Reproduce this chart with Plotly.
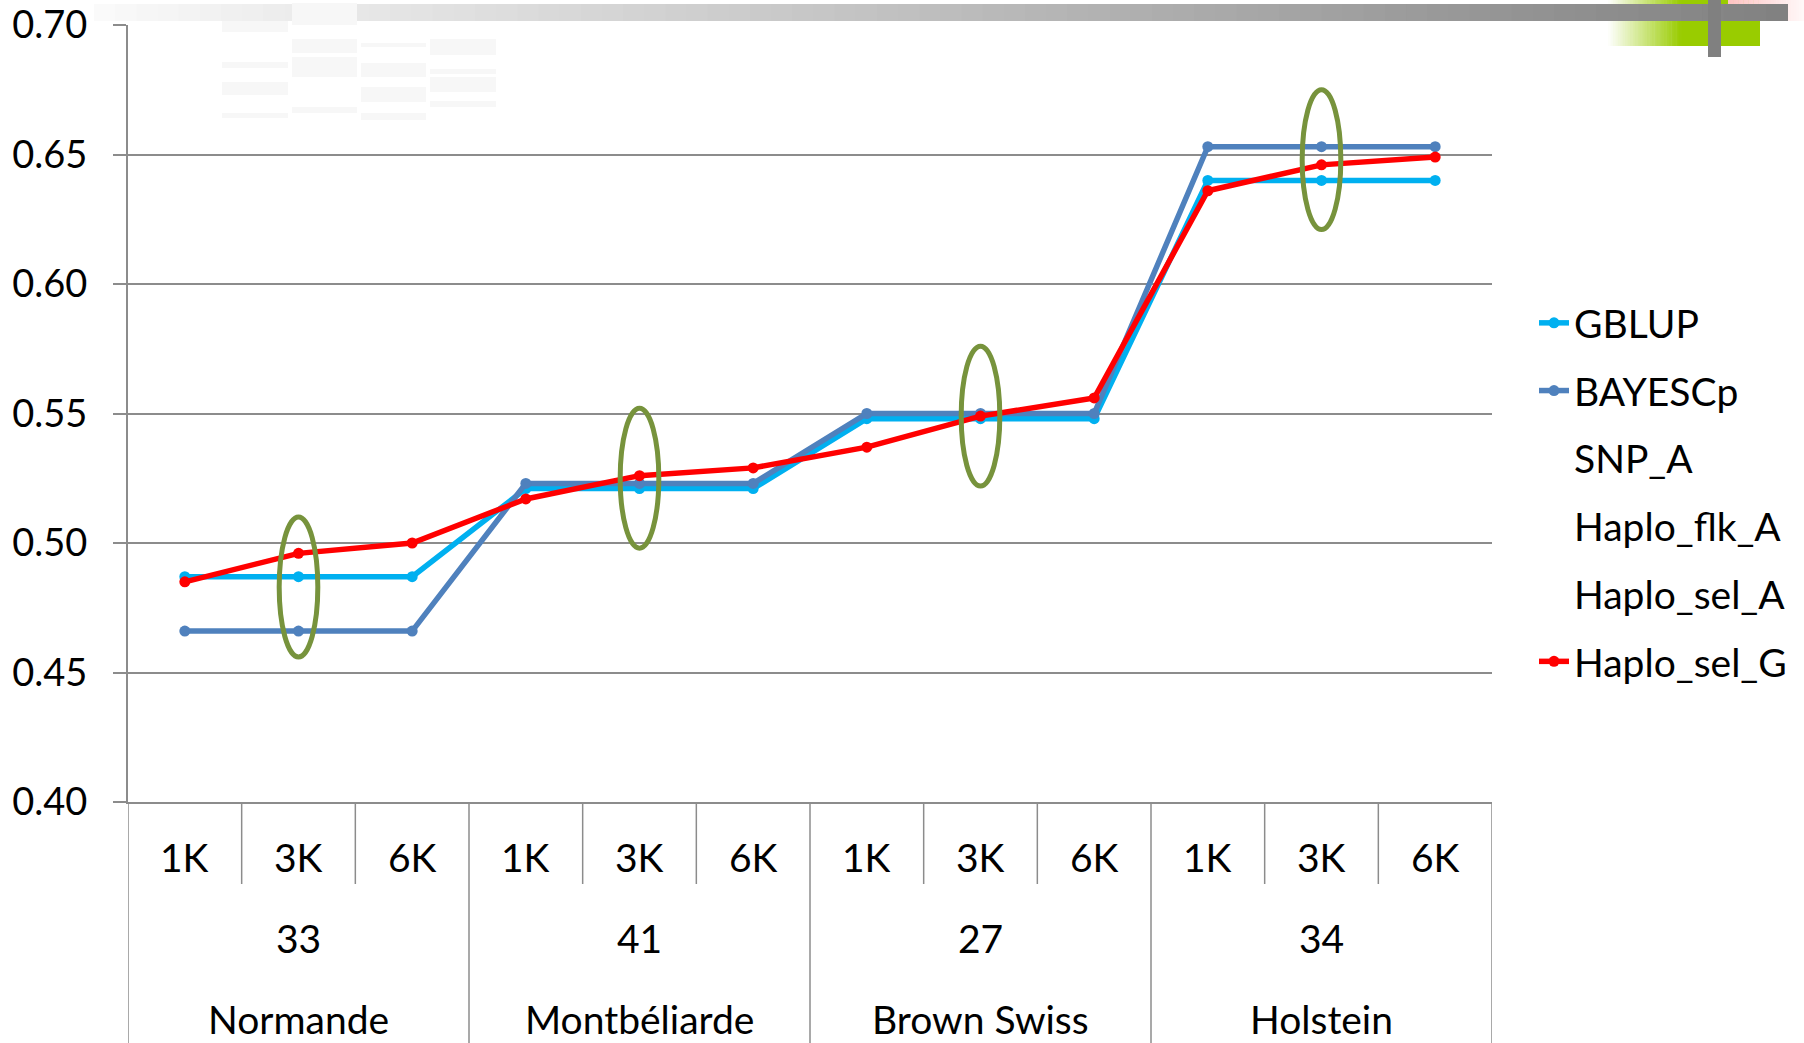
import plotly.graph_objects as go

# --- data ---------------------------------------------------------------
panels = ["1K", "3K", "6K"]
group_sizes = ["33", "41", "27", "34"]
breeds = ["Normande", "Montbéliarde", "Brown Swiss", "Holstein"]

gblup = [0.487, 0.487, 0.487, 0.521, 0.521, 0.521, 0.548, 0.548, 0.548, 0.640, 0.640, 0.640]
bayescp = [0.466, 0.466, 0.466, 0.523, 0.523, 0.523, 0.550, 0.550, 0.550, 0.653, 0.653, 0.653]
snp_a = [None] * 12
haplo_flk_a = [None] * 12
haplo_sel_a = [None] * 12
haplo_sel_g = [0.485, 0.496, 0.500, 0.517, 0.526, 0.529, 0.537, 0.549, 0.556, 0.636, 0.646, 0.649]

# highlighted 3K results (centre of each ring)
ring_x = [1, 4, 7, 10]
ring_y = [0.483, 0.525, 0.549, 0.648]

y_ticks = [0.40, 0.45, 0.50, 0.55, 0.60, 0.65, 0.70]

# --- geometry helpers ---------------------------------------------------
W, H = 1804, 1043
L, R, T, B = 128, 1492, 25, 802          # plot area in pixels
FONT = "Lato"
FS = 39
GRID = "#8c8c8c"


def px(xp):
    return (xp - L) / (R - L)


def py(yp):
    return (B - yp) / (B - T)


x_pos = list(range(len(gblup)))
x_labels = [panels[i % 3] for i in x_pos]

fig = go.Figure()

series = [
    ("GBLUP", gblup, "#00B0F0"),
    ("BAYESCp", bayescp, "#4F81BD"),
    ("SNP_A", snp_a, "rgba(0,0,0,0)"),
    ("Haplo_flk_A", haplo_flk_a, "rgba(0,0,0,0)"),
    ("Haplo_sel_A", haplo_sel_a, "rgba(0,0,0,0)"),
    ("Haplo_sel_G", haplo_sel_g, "#FF0000"),
]
for name, vals, col in series:
    fig.add_trace(go.Scatter(
        x=x_pos, y=vals, name=name, mode="lines+markers",
        line=dict(color=col, width=5.5),
        marker=dict(color=col, size=11),
        legendgroup=name, showlegend=True,
    ))

shapes = []

# slide banner decoration along the top edge
shapes.append(dict(type="rect", xref="paper", yref="paper",
                   x0=px(1681), x1=px(1760), y0=py(46), y1=py(0),
                   fillcolor="#99CC00", line_width=0, layer="below"))
n = 30
for i in range(n):
    t = (i + 0.5) / n
    r = int(255 + (153 - 255) * t)
    g = int(255 + (204 - 255) * t)
    b = int(255 + (0 - 255) * t)
    shapes.append(dict(type="rect", xref="paper", yref="paper",
                       x0=px(1608 + 73 * i / n), x1=px(1608 + 73 * (i + 1) / n + 0.5),
                       y0=py(46), y1=py(0),
                       fillcolor=f"rgb({r},{g},{b})", line_width=0, layer="below"))
for i in range(n):
    t = i / n
    v = int(196 + (250 - 196) * t)
    shapes.append(dict(type="rect", xref="paper", yref="paper",
                       x0=px(1728 + 76 * i / n), x1=px(1728 + 76 * (i + 1) / n + 0.5),
                       y0=py(21), y1=py(0),
                       fillcolor=f"rgb(255,{v},{v})", line_width=0, layer="below"))
n = 80
x_start, x_end = 94, 1787
for i in range(n):
    t = i / n
    v = int(250 + (128 - 250) * t)
    shapes.append(dict(type="rect", xref="paper", yref="paper",
                       x0=px(x_start + (x_end - x_start) * i / n),
                       x1=px(x_start + (x_end - x_start) * (i + 1) / n + 1),
                       y0=py(21), y1=py(4),
                       fillcolor=f"rgb({v},{v},{v})", line_width=0, layer="below"))
shapes.append(dict(type="rect", xref="paper", yref="paper",
                   x0=px(1708), x1=px(1721), y0=py(57), y1=py(0),
                   fillcolor="#808080", line_width=0, layer="below"))

# faint ghosted text blocks in the top-left corner
ghost = [
    (222, 288, 21, 32), (222, 288, 62, 68), (222, 288, 82, 95), (222, 288, 113, 118),
    (292, 357, 3, 25), (292, 357, 39, 53), (292, 357, 57, 77), (292, 357, 107, 113),
    (361, 426, 43, 47), (361, 426, 63, 77), (361, 426, 87, 102), (361, 426, 113, 120),
    (430, 496, 39, 55), (430, 496, 69, 74), (430, 496, 77, 92), (430, 496, 101, 107),
]
for x0, x1, y0, y1 in ghost:
    shapes.append(dict(type="rect", xref="paper", yref="paper",
                       x0=px(x0), x1=px(x1), y0=py(y1), y1=py(y0),
                       fillcolor="#f7f7f7", line_width=0, layer="below"))

# category separators below the plot
for k in range(len(x_pos) + 1):
    xb = k - 0.5
    bottom = py(H) if k % 3 == 0 else py(884)
    shapes.append(dict(type="line", xref="x", yref="paper",
                       x0=xb, x1=xb, y0=0, y1=bottom,
                       line=dict(color=GRID, width=1.5)))

# rings around the 3K results
for cx, cy in zip(ring_x, ring_y):
    shapes.append(dict(type="circle", xref="x", yref="y",
                       x0=cx - 0.17, x1=cx + 0.17, y0=cy - 0.027, y1=cy + 0.027,
                       line=dict(color="#77933C", width=5), layer="above"))

annotations = []
for xi, lab in zip(x_pos, x_labels):
    annotations.append(dict(x=xi, y=py(857), xref="x", yref="paper", text=lab,
                            showarrow=False, yanchor="middle",
                            font=dict(family=FONT, size=FS, color="#000")))
for gi, (size, breed) in enumerate(zip(group_sizes, breeds)):
    xc = gi * 3 + 1
    annotations.append(dict(x=xc, y=py(938), xref="x", yref="paper", text=size,
                            showarrow=False, yanchor="middle",
                            font=dict(family=FONT, size=FS, color="#000")))
    annotations.append(dict(x=xc, y=py(1019), xref="x", yref="paper", text=breed,
                            showarrow=False, yanchor="middle",
                            font=dict(family=FONT, size=FS, color="#000")))

fig.update_layout(
    width=W, height=H,
    margin=dict(l=L, r=W - R, t=T, b=H - B, autoexpand=False),
    paper_bgcolor="white", plot_bgcolor="white",
    font=dict(family=FONT, size=FS, color="#000"),
    showlegend=True,
    legend=dict(x=px(1534), y=py(291), xanchor="left", yanchor="top",
                font=dict(family=FONT, size=FS, color="#000"),
                tracegroupgap=14, bgcolor="rgba(0,0,0,0)", borderwidth=0),
    xaxis=dict(range=[-0.5, 11.5], showgrid=False, zeroline=False,
               showticklabels=False, ticks="", showline=True,
               linecolor=GRID, linewidth=2, automargin=False),
    yaxis=dict(range=[0.40, 0.70], tickvals=y_ticks, tickformat=".2f",
               showgrid=True, gridcolor=GRID, gridwidth=2, zeroline=False,
               showline=True, linecolor=GRID, linewidth=2,
               ticks="outside", ticklen=13, tickcolor=GRID, tickwidth=2,
               ticklabelstandoff=18, automargin=False,
               tickfont=dict(family=FONT, size=38, color="#000")),
    shapes=shapes,
    annotations=annotations,
)

fig.write_html("out.html")
